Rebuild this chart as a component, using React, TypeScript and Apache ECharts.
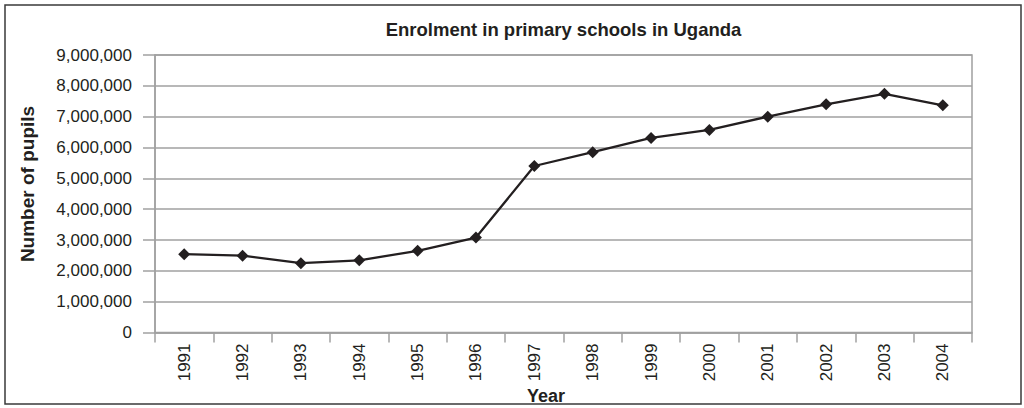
import React, { useEffect, useRef } from "react";
import * as echarts from "echarts";

const titleText = "Enrolment in primary schools in Uganda";
const xAxisTitle = "Year";
const yAxisTitle = "Number of pupils";
const years = ["1991", "1992", "1993", "1994", "1995", "1996", "1997", "1998", "1999", "2000", "2001", "2002", "2003", "2004"];
const pupils = [2540000, 2490000, 2250000, 2340000, 2650000, 3080000, 5400000, 5850000, 6310000, 6570000, 7000000, 7400000, 7740000, 7370000];
const yMin = 0;
const yMax = 9000000;
const yStep = 1000000;

const FONT = "'Liberation Sans', Arial, Helvetica, sans-serif";

export default function App() {
  const ref = useRef<HTMLDivElement>(null);
  useEffect(() => {
    if (!ref.current) return;
    const chart = echarts.init(ref.current, null, { renderer: "svg" });
    chart.setOption({
      animation: false,
      backgroundColor: "#ffffff",
      textStyle: { fontFamily: FONT },
      graphic: [
        {
          type: "rect",
          shape: { x: 5, y: 5, width: 1016, height: 399 },
          style: { fill: "none", stroke: "#3a3a3a", lineWidth: 1.5 },
          silent: true,
        },
        {
          type: "text",
          x: 563.5,
          y: 29,
          style: {
            text: titleText,
            fontFamily: FONT,
            fontSize: 18.5,
            fontWeight: "bold",
            fill: "#231f20",
            textAlign: "center",
            textVerticalAlign: "middle",
          },
        },
        {
          type: "text",
          x: 27,
          y: 184,
          rotation: Math.PI / 2,
          style: {
            text: yAxisTitle,
            fontFamily: FONT,
            fontSize: 19,
            fontWeight: "bold",
            fill: "#231f20",
            textAlign: "center",
            textVerticalAlign: "middle",
          },
        },
        {
          type: "text",
          x: 546,
          y: 396,
          style: {
            text: xAxisTitle,
            fontFamily: FONT,
            fontSize: 18,
            fontWeight: "bold",
            fill: "#231f20",
            textAlign: "center",
            textVerticalAlign: "middle",
          },
        },
      ],
      grid: {
        left: 155,
        right: 52,
        top: 55,
        bottom: 75.5,
        show: true,
        borderColor: "#a0a0a0",
        borderWidth: 1.5,
        backgroundColor: "transparent",
      },
      xAxis: {
        type: "category",
        data: years,
        boundaryGap: true,
        axisLine: { show: true, lineStyle: { color: "#a0a0a0", width: 1.5 } },
        axisTick: { show: true, length: 10, lineStyle: { color: "#a0a0a0", width: 1.5 } },
        axisLabel: {
          interval: 0,
          rotate: 90,
          margin: 11,
          fontSize: 17,
          color: "#231f20",
          fontFamily: FONT,
        },
        splitLine: { show: false },
      },
      yAxis: {
        type: "value",
        min: yMin,
        max: yMax,
        interval: yStep,
        axisLine: { show: true, lineStyle: { color: "#a0a0a0", width: 1.5 } },
        axisTick: { show: true, length: 12, lineStyle: { color: "#a0a0a0", width: 1.5 } },
        axisLabel: {
          margin: 23,
          fontSize: 17,
          color: "#231f20",
          fontFamily: FONT,
          formatter: (v: number) => v.toLocaleString("en-US"),
        },
        splitLine: { show: true, lineStyle: { color: "#a0a0a0", width: 1.5 } },
      },
      series: [
        {
          type: "line",
          data: pupils,
          symbol: "diamond",
          symbolSize: 12,
          showSymbol: true,
          lineStyle: { color: "#231f20", width: 2.3 },
          itemStyle: { color: "#231f20" },
        },
      ],
    });
    return () => chart.dispose();
  }, []);
  return <div ref={ref} style={{ position: "fixed", left: 0, top: 0, width: 1024, height: 408 }} />;
}
